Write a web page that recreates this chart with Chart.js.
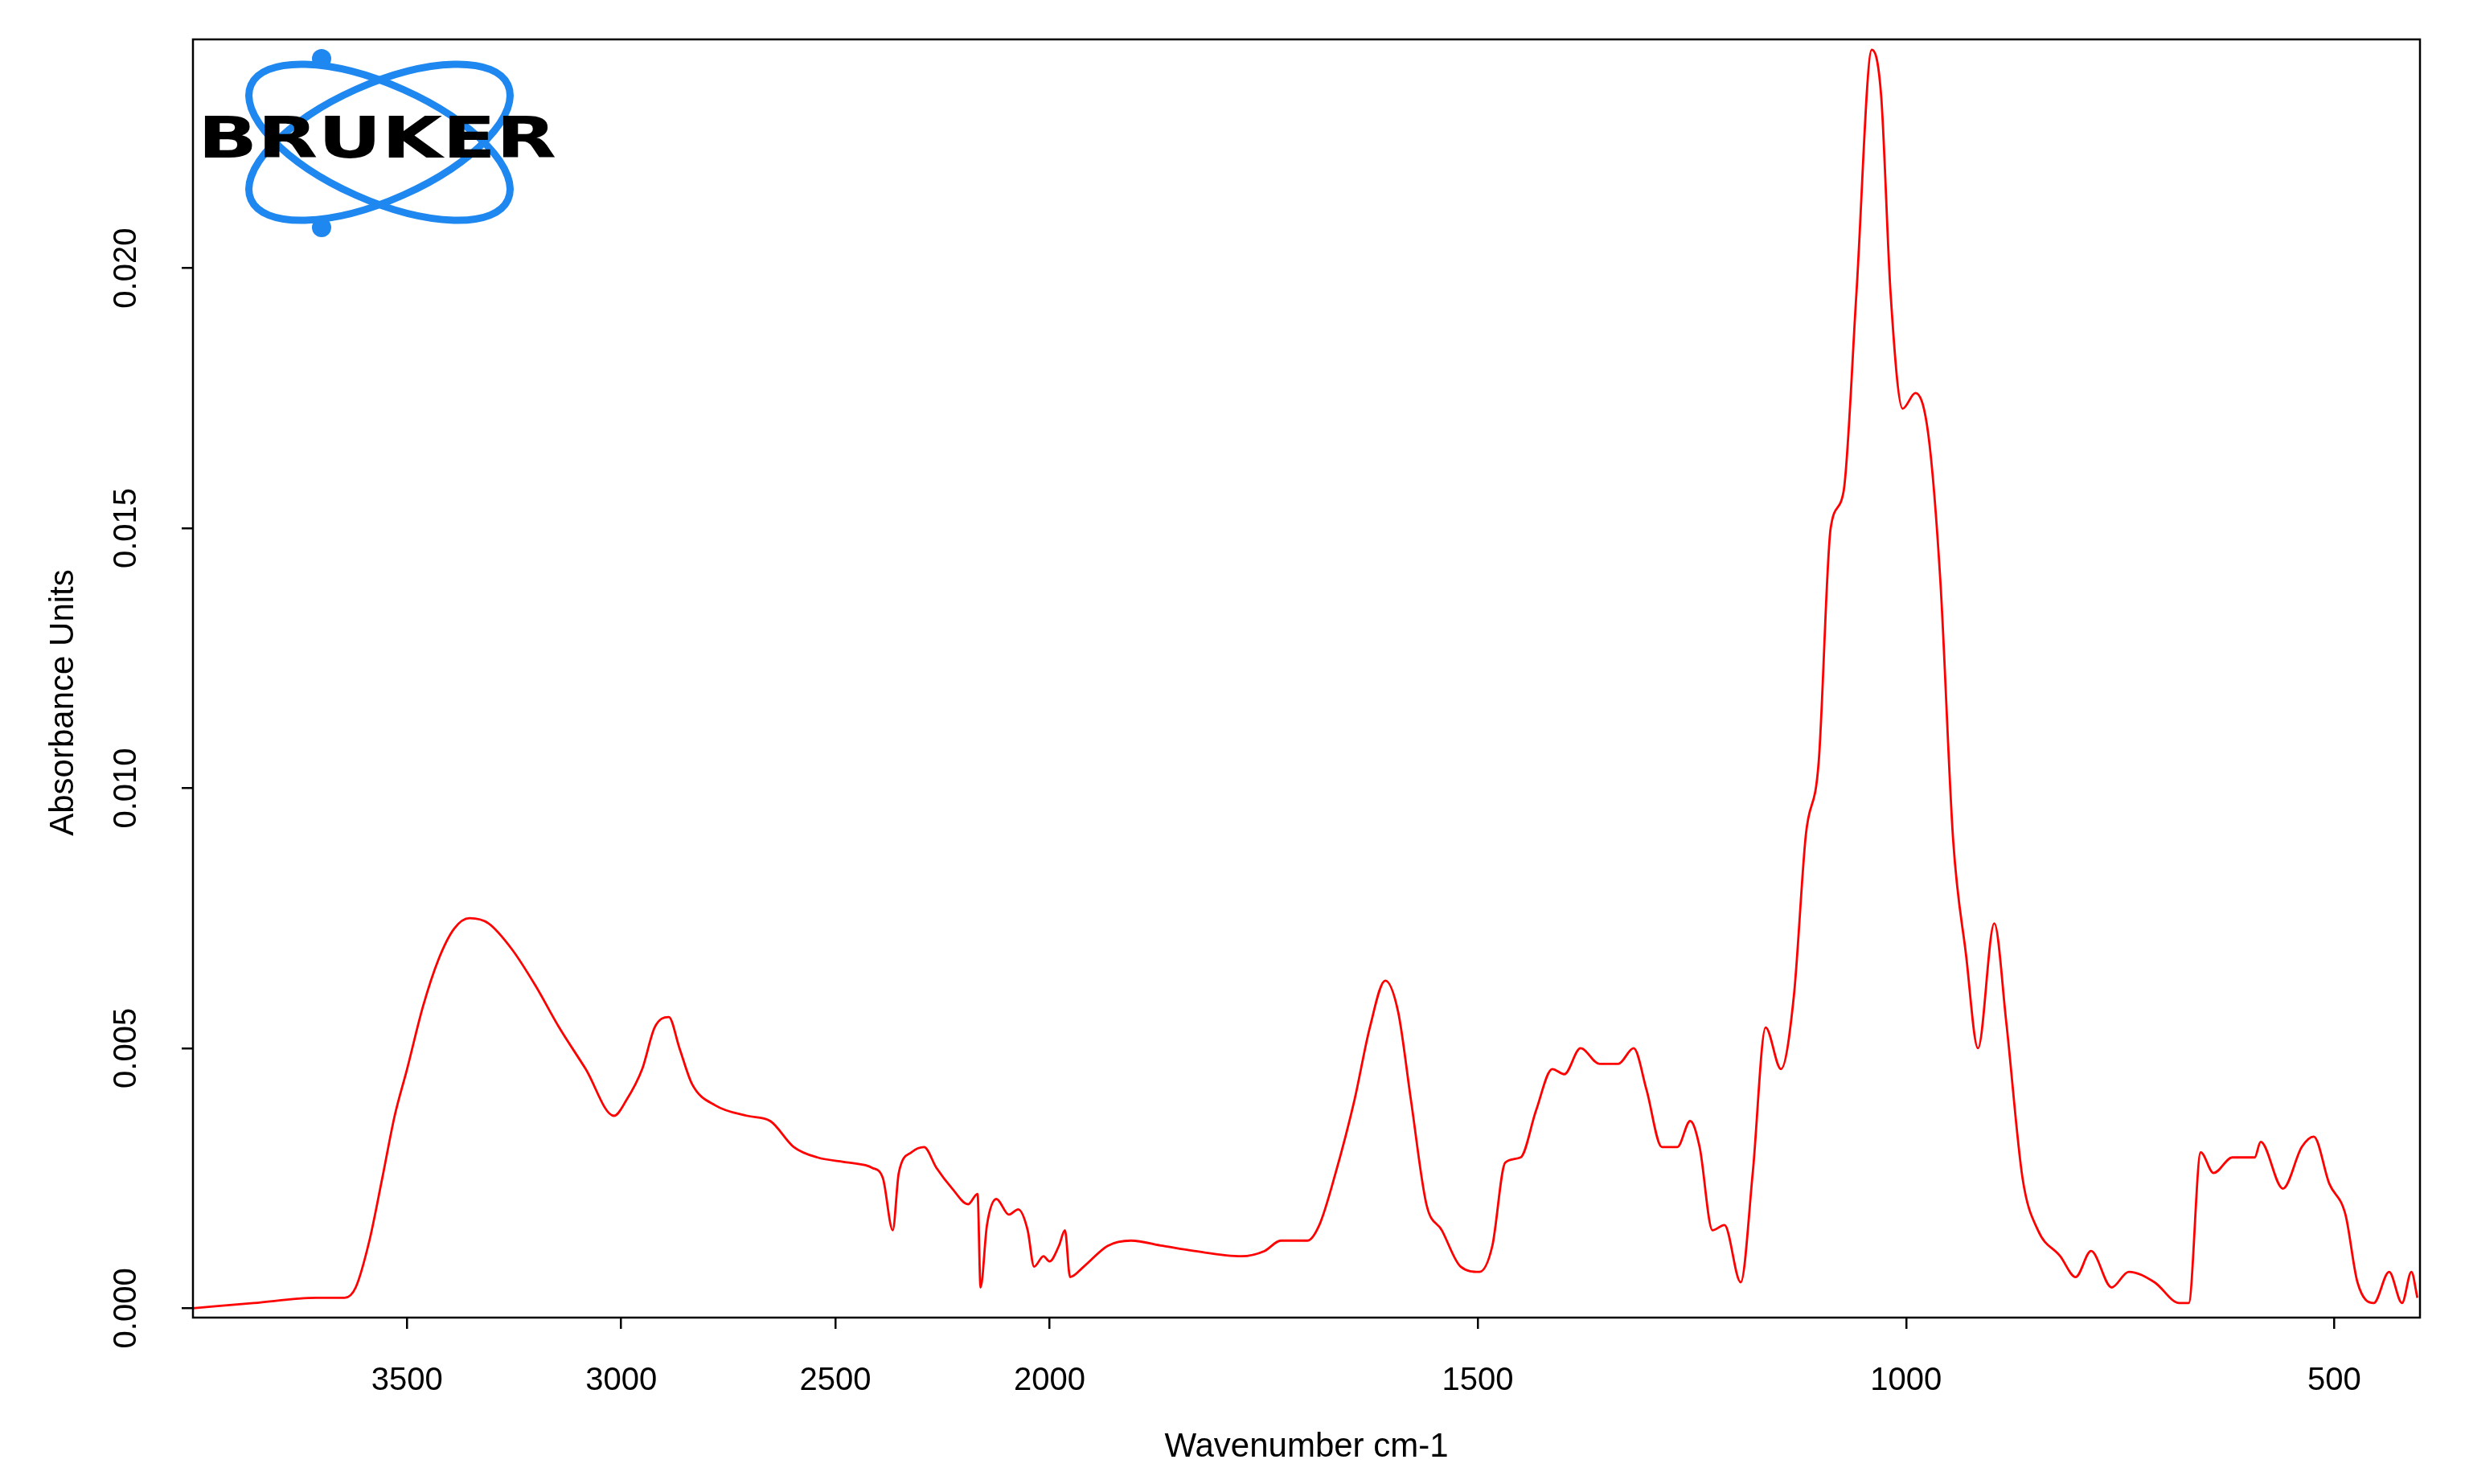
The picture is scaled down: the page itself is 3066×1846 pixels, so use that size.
<!DOCTYPE html>
<html>
<head>
<meta charset="utf-8">
<script src="https://cdn.jsdelivr.net/npm/chart.js@4.4.1/dist/chart.umd.min.js"></script>
<style>
  html, body { margin: 0; padding: 0; background: #fff; }
  canvas { display: block; }
</style>
</head>
<body>
<canvas id="spectrum" width="3066" height="1846"></canvas>
<script>
// Spectrum (wavenumber cm-1, absorbance)
const wavenumbers = [4000, 3858, 3712, 3646, 3620, 3588, 3558, 3529, 3500, 3463, 3427, 3390, 3354, 3310, 3255, 3200, 3145, 3083, 3017, 2988, 2951, 2922, 2889, 2864, 2834, 2780, 2706, 2652, 2597, 2542, 2469, 2414, 2389, 2366, 2352, 2322, 2293, 2264, 2227, 2190, 2168, 2161, 2146, 2124, 2095, 2073, 2051, 2036, 2014, 2000,
  1989, 1982, 1976, 1960, 1932, 1905, 1868, 1831, 1776, 1749, 1730, 1699, 1685, 1666, 1644, 1626, 1608, 1593, 1578, 1560, 1542, 1520, 1498, 1483, 1468, 1450, 1432, 1413, 1399, 1380, 1358, 1336, 1318, 1303, 1285, 1267, 1252, 1241, 1226, 1212, 1193, 1179, 1164, 1146, 1131, 1117, 1102, 1088, 1073, 1058, 1040, 1029, 1018, 1004, 989, 974, 960, 945, 930, 916, 897, 883, 864, 846, 820, 802, 784, 760, 740, 710, 681, 670, 656, 641, 619, 593, 586, 560, 538, 524, 506, 487, 473, 454, 436, 421, 410, 403];
const absorbance = [0.0000, 0.0001, 0.0002, 0.0002, 0.0004, 0.0013, 0.0025, 0.0037, 0.0046, 0.0058, 0.0067, 0.0073, 0.0075, 0.0074, 0.0069, 0.0062, 0.0054, 0.0046, 0.0037, 0.0040, 0.0046, 0.0054, 0.0056, 0.0050, 0.0043, 0.0039, 0.0037, 0.0036, 0.0031, 0.0029, 0.0028, 0.0027, 0.0025, 0.0015, 0.0026, 0.0030, 0.0031, 0.0027, 0.0023, 0.0020, 0.0022, 0.0004, 0.0016, 0.0021, 0.0018, 0.0019, 0.0015, 0.0008, 0.0010, 0.0009,
  0.0012, 0.0015, 0.0006, 0.0008, 0.0012, 0.0013, 0.0012, 0.0011, 0.0010, 0.0011, 0.0013, 0.0013, 0.0016, 0.0026, 0.0040, 0.0054, 0.0063, 0.0057, 0.0040, 0.0020, 0.0015, 0.0008, 0.0007, 0.0012, 0.0028, 0.0029, 0.0038, 0.0046, 0.0045, 0.0050, 0.0047, 0.0047, 0.0050, 0.0042, 0.0031, 0.0031, 0.0036, 0.0031, 0.0015, 0.0016, 0.0005, 0.0026, 0.0054, 0.0046, 0.0060, 0.0091, 0.0105, 0.0150, 0.0157, 0.0195, 0.0242, 0.0233, 0.0195, 0.0173, 0.0176, 0.0168, 0.0140, 0.0090, 0.0068, 0.0050, 0.0074, 0.0055, 0.0025, 0.0015, 0.0010, 0.0006, 0.0011, 0.0004, 0.0007, 0.0005, 0.0001, 0.0001, 0.0030, 0.0026, 0.0029, 0.0029, 0.0032, 0.0023, 0.0031, 0.0033, 0.0024, 0.0018, 0.0005, 0.0001, 0.0007, 0.0001, 0.0007, 0.0002];
const xTickLabels = [3500, 3000, 2500, 2000, 1500, 1000, 500];
const yTickLabels = ['0.000', '0.005', '0.010', '0.015', '0.020'];

// OPUS draws the range above 2000 cm-1 at half scale
const toAxis = (wn) => wn > 2000 ? 2000 + (wn - 2000) / 2 : wn;

const FONT = '"Liberation Sans", Arial, sans-serif';

// Frame, rotated y labels and the logo
const decorations = {
    id: 'decorations',
    afterDraw(chart) {
        const { ctx, chartArea: a, scales } = chart;
        ctx.save();
        ctx.strokeStyle = '#000';
        ctx.lineWidth = 2.5;
        ctx.strokeRect(a.left, a.top, a.right - a.left, a.bottom - a.top);

        // y tick labels, rotated
        ctx.fillStyle = '#000';
        ctx.font = '40px ' + FONT;
        ctx.textAlign = 'center';
        ctx.textBaseline = 'bottom';
        yTickLabels.forEach(lbl => {
            const y = scales.y.getPixelForValue(parseFloat(lbl));
            ctx.save();
            ctx.translate(a.left - 62, y);
            ctx.rotate(-Math.PI / 2);
            ctx.fillText(lbl, 0, 0);
            ctx.restore();
        });
        ctx.save();
        ctx.translate(100, (a.top + a.bottom) / 2 + 30);
        ctx.rotate(-Math.PI / 2);
        ctx.font = '42px ' + FONT;
        ctx.fillText('Absorbance Units', 0, 0);
        ctx.restore();

        // Bruker logo
        const cx = 472, cy = 177;
        ctx.strokeStyle = '#1e88f0';
        ctx.lineWidth = 9;
        [0.42, -0.42].forEach(r => {
            ctx.beginPath();
            ctx.ellipse(cx, cy, 175, 72, r, 0, Math.PI * 2);
            ctx.stroke();
        });
        ctx.fillStyle = '#1e88f0';
        [[400, 73], [400, 283]].forEach(([x, y]) => {
            ctx.beginPath();
            ctx.arc(x, y, 12, 0, Math.PI * 2);
            ctx.fill();
        });
        ctx.fillStyle = '#000';
        ctx.font = '900 72px "DejaVu Sans", ' + FONT;
        ctx.textAlign = 'left';
        ctx.textBaseline = 'middle';
        const w = ctx.measureText('BRUKER').width;
        ctx.save();
        ctx.translate(246, cy);
        ctx.scale(446 / w, 1);
        ctx.fillText('BRUKER', 0, 0);
        ctx.restore();
        ctx.restore();
    }
};

new Chart(document.getElementById('spectrum'), {
    type: 'line',
    data: {
        datasets: [{
            data: wavenumbers.map((wn, i) => ({ x: toAxis(wn), y: absorbance[i] })),
            borderColor: '#ff0000',
            borderWidth: 2.8,
            pointRadius: 0,
            cubicInterpolationMode: 'monotone'
        }]
    },
    options: {
        responsive: false,
        devicePixelRatio: 1,
        animation: false,
        layout: { padding: { top: 49, right: 56, left: 0, bottom: 0 } },
        plugins: { legend: { display: false }, tooltip: { enabled: false } },
        scales: {
            x: {
                type: 'linear',
                reverse: true,
                min: 400,
                max: 3000,
                afterBuildTicks: (s) => { s.ticks = xTickLabels.map(v => ({ value: toAxis(v) })); },
                afterFit: (s) => { s.height = 207; },
                grid: { drawOnChartArea: false, drawTicks: true, tickLength: 14, color: '#000', lineWidth: 2.5 },
                border: { display: false },
                ticks: {
                    color: '#000',
                    font: { family: FONT, size: 40 },
                    padding: 41,
                    maxRotation: 0,
                    callback: (v) => v > 2000 ? String(2000 + (v - 2000) * 2) : String(v)
                },
                title: { display: true, text: 'Wavenumber cm-1', color: '#000', font: { family: FONT, size: 42 }, padding: { top: 0, bottom: 20 } }
            },
            y: {
                min: -0.00018,
                max: 0.0244,
                afterBuildTicks: (s) => { s.ticks = yTickLabels.map(v => ({ value: parseFloat(v) })); },
                afterFit: (s) => { s.width = 240; },
                grid: { drawOnChartArea: false, drawTicks: true, tickLength: 14, color: '#000', lineWidth: 2.5 },
                border: { display: false },
                ticks: { display: false }
            }
        }
    },
    plugins: [decorations]
});
</script>
</body>
</html>
